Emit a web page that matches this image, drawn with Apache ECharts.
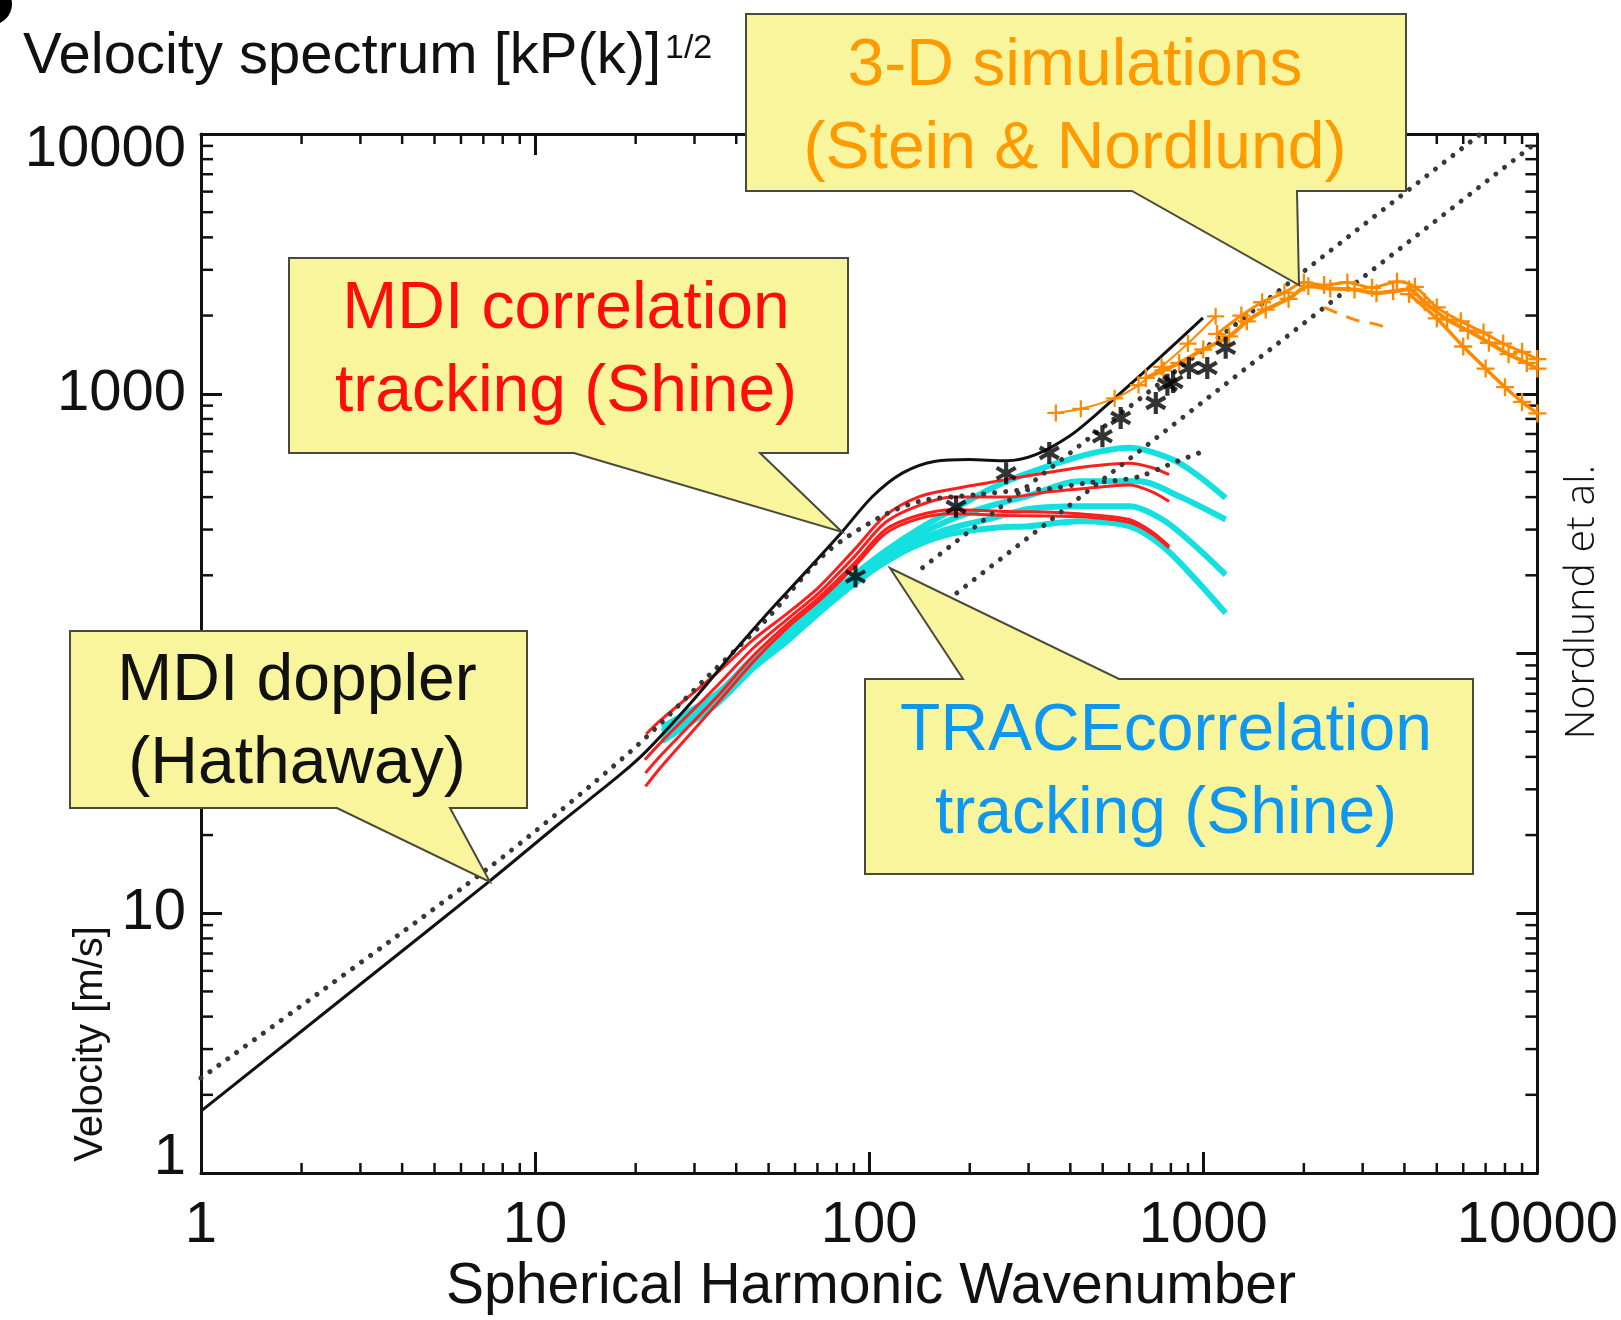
<!DOCTYPE html>
<html><head><meta charset="utf-8">
<script src="https://cdn.jsdelivr.net/npm/echarts@6/dist/echarts.min.js"></script>
<style>html,body{margin:0;padding:0;background:#fff}#c{width:1621px;height:1320px}</style>
</head><body><div id="c"></div>
<script>
// ---------------- data (k = spherical harmonic wavenumber, v = velocity m/s) ----------------
const xTickLabels = ['1', '10', '100', '1000', '10000'];
const yTickLabels = ['1', '10', '', '1000', '10000'];
const minorMantissas = [2, 3, 4, 5, 6, 7, 8, 9];
const decades = [1, 10, 100, 1000];

const mdiDoppler = [[1,1.73],[3,5.33],[7.31,13.3],[12,22.5],[17.9,34],[21.5,42],[30,67],[40,104],[49.2,141],[65,208],[82.4,291],[102.5,403],[126,496],[158,550],[199,558],[257,552],[315,583],[397,686],[484,844],[686,1257],[998,1959]];
const dottedCurve = [[1,2.32],[7.14,14.7],[19.6,42.7],[33,82],[49.2,135],[74.3,244],[107,333],[141,385],[215,410],[283,425],[352,432],[457,455],[543,462],[647,481],[780,530],[971,592]];
const dottedUpper = [[144.5,214],[6760,10000]];
const dottedLower = [[183,171],[10000,9330]];

const red1 = [[21.5,49],[24,56],[35,84],[45,113],[57,143],[71,181],[90,250],[112,340],[140,400],[178,430],[256,467],[350,500],[457,526],[600,540],[700,520],[790,488]];
const red2 = [[21.3,39],[24,46],[35,75],[45,105],[57,136],[71,172],[90,235],[112,320],[140,370],[178,400],[260,400],[350,420],[450,433],[600,445],[700,420],[790,385]];
const red3 = [[21.4,34.7],[24,41],[35,68],[45,98],[57,130],[71,165],[90,222],[112,300],[140,340],[178,358],[260,352],[350,350],[450,343],[600,328],[700,295],[790,259]];
const red4 = [[21.4,30.8],[24,37],[35,64],[45,93],[57,126],[71,160],[90,215],[112,290],[140,330],[178,345],[260,340],[350,338],[450,335],[600,320],[700,290],[790,255]];

const cyan1 = [[24,52],[35,70],[45,96],[57,122],[71,156],[90,200],[112,248],[140,300],[178,358],[230,430],[281,481],[425,573],[600,619],[809,558],[971,481],[1167,397]];
const cyan2 = [[24,50],[35,68],[45,93],[57,118],[71,152],[90,195],[112,240],[140,285],[178,330],[230,370],[296,403],[425,460],[643,460],[847,403],[1167,328]];
const cyan3 = [[24,48],[35,66],[45,90],[57,115],[71,148],[90,190],[112,232],[140,272],[178,305],[230,330],[300,360],[425,369],[600,369],[755,328],[948,259],[1167,201]];
const cyan4 = [[24,46],[35,64],[45,88],[57,112],[71,144],[90,185],[112,225],[140,262],[178,290],[239,305],[300,309],[425,323],[600,309],[755,259],[948,193],[1167,143]];

const orangeThin = [[362,844],[430,875],[543,960],[640,1080],[750,1270],[900,1560],[1089,1987]];
const orangeMain = [[673,1151],[760,1230],[847,1314],[1000,1480],[1195,1663],[1350,1900],[1538,2109],[1800,2320],[2063,2594],[2400,2540],[2836,2518],[3300,2440],[3700,2480],[4130,2518],[4600,2250],[5370,1928],[6200,1750],[7160,1571],[8200,1420],[9300,1314],[10000,1250]];
const orangeUpper = [[1100,1700],[1300,2000],[1500,2250],[1750,2450],[2000,2680],[2300,2620],[2700,2680],[3200,2560],[3800,2700],[4300,2580],[5000,2150],[5900,1900],[6900,1720],[7900,1560],[9000,1450],[10000,1360]];
const orangeLow = [[4130,2420],[5000,1950],[6000,1520],[7000,1250],[8000,1060],[9000,930],[10000,840]];
const orangeDash = [[2300,2150],[2836,1928],[3300,1850],[3680,1766]];

const asterisks = [[91,198],[182,367],[257,494],[346,592],[499,686],[566,807],[721,922],[781,1084],[812,1110],[906,1257],[1028,1257],[1167,1503]];

// ---------------- styling ----------------
const FONT = '"Liberation Sans", Arial, Helvetica, sans-serif';
const INK = '#111';
const RED = '#ff1e1e', CYAN = '#14e0e0', ORANGE = '#ff8a00';
const BOX_FILL = '#f8f59c', BOX_STROKE = '#4a4a3a';
const PLUS = 'path://M-1,-0.13L1,-0.13L1,0.13L-1,0.13Z M-0.13,-1L0.13,-1L0.13,1L-0.13,1Z';
const STAR = 'path://M-0.19,-1L0.19,-1L0.19,1L-0.19,1Z M-0.961,-0.336L-0.771,-0.664L0.961,0.336L0.771,0.664Z M0.771,-0.664L0.961,-0.336L-0.771,0.664L-0.961,0.336Z';

const minorTickData = [];
decades.forEach(d => minorMantissas.forEach(m => { minorTickData.push([m*d, 1, 0]); minorTickData.push([1, m*d, 1]); }));

function lineSeries(name, data, color, width, extra) {
  return Object.assign({
    name, type: 'line', data, showSymbol: false, smooth: 0.3, silent: true,
    lineStyle: { color, width }, itemStyle: { color }, z: 3
  }, extra || {});
}
const dotStyle = { color: '#383838', width: 5, type: [0.01, 11], cap: 'round' };

const axisCommon = {
  type: 'log', logBase: 10, min: 1, max: 10000,
  axisLine: { show: true, onZero: false, lineStyle: { color: INK, width: 3 } },
  axisTick: { show: true, inside: true, length: 21, lineStyle: { color: INK, width: 3 } },
  splitLine: { show: false }, minorTick: { show: false }, minorSplitLine: { show: false }
};

const chart = echarts.init(document.getElementById('c'), null, { renderer: 'canvas' });
const option = {
  animation: false,
  backgroundColor: '#fff',
  grid: { left: 201, right: 83, top: 134, bottom: 147, containLabel: false },
  xAxis: [
    Object.assign({}, axisCommon, { position: 'bottom',
      axisLabel: { margin: 24, fontSize: 58, fontFamily: FONT, color: INK,
        formatter: v => xTickLabels[Math.round(Math.log10(v))] } }),
    Object.assign({}, axisCommon, { position: 'top', axisLabel: { show: false } })
  ],
  yAxis: [
    Object.assign({}, axisCommon, { position: 'left',
      axisLabel: { margin: 15, fontSize: 58, fontFamily: FONT, color: INK,
        formatter: v => { const i = Math.round(Math.log10(v)); const s = yTickLabels[i];
          if (!s) return ''; if (i === 4) return '{top|' + s + '}'; if (i === 0) return '{bot|' + s + '}'; return s; },
        rich: {
          top: { fontSize: 58, fontFamily: FONT, color: INK, padding: [32, 0, 0, 0] },
          bot: { fontSize: 58, fontFamily: FONT, color: INK, padding: [0, 0, 30, 0] }
        } } }),
    Object.assign({}, axisCommon, { position: 'right', axisLabel: { show: false } })
  ],
  series: [
    {
      name: 'minor ticks', type: 'custom', data: minorTickData, silent: true, clip: false, z: 5,
      renderItem: function (params, api) {
        const a = api.value(0), b = api.value(1), kind = api.value(2);
        const st = { stroke: INK, lineWidth: 2.5 };
        if (kind === 0) {
          const p = api.coord([a, 1]), q = api.coord([a, 10000]);
          return { type: 'group', children: [
            { type: 'line', shape: { x1: p[0], y1: p[1], x2: p[0], y2: p[1] - 10 }, style: st },
            { type: 'line', shape: { x1: q[0], y1: q[1], x2: q[0], y2: q[1] + 10 }, style: st } ] };
        }
        const p = api.coord([1, b]), q = api.coord([10000, b]);
        return { type: 'group', children: [
          { type: 'line', shape: { x1: p[0], y1: p[1], x2: p[0] + 12, y2: p[1] }, style: st },
          { type: 'line', shape: { x1: q[0], y1: q[1], x2: q[0] - 12, y2: q[1] }, style: st } ] };
      }
    },
    lineSeries('TRACE 1', cyan1, CYAN, 6),
    lineSeries('TRACE 2', cyan2, CYAN, 6),
    lineSeries('TRACE 3', cyan3, CYAN, 6),
    lineSeries('TRACE 4', cyan4, CYAN, 6),
    lineSeries('MDI ct 4', red4, RED, 3, { z: 4 }),
    lineSeries('MDI ct 3', red3, RED, 3, { z: 4 }),
    lineSeries('MDI ct 2', red2, RED, 3, { z: 4 }),
    lineSeries('MDI ct 1', red1, RED, 3, { z: 4 }),
    lineSeries('dotted curve', dottedCurve, '#383838', 5, { lineStyle: dotStyle, z: 6 }),
    lineSeries('dotted upper', dottedUpper, '#383838', 5, { lineStyle: dotStyle, smooth: false, z: 6 }),
    lineSeries('dotted lower', dottedLower, '#383838', 5, { lineStyle: dotStyle, smooth: false, z: 6 }),
    lineSeries('MDI doppler', mdiDoppler, INK, 3, { z: 7 }),
    lineSeries('3-D thin', orangeThin, ORANGE, 2, { z: 8, showSymbol: true, symbol: PLUS, symbolSize: 17 }),
    lineSeries('3-D main', orangeMain, ORANGE, 4, { z: 8, showSymbol: true, symbol: PLUS, symbolSize: 18 }),
    lineSeries('3-D upper', orangeUpper, ORANGE, 3, { z: 8, showSymbol: true, symbol: PLUS, symbolSize: 18 }),
    lineSeries('3-D low', orangeLow, ORANGE, 3.5, { z: 8, showSymbol: true, symbol: PLUS, symbolSize: 18 }),
    lineSeries('3-D dash', orangeDash, ORANGE, 3, { z: 8, lineStyle: { color: ORANGE, width: 3, type: [14, 10] } }),
    { name: 'asterisks', type: 'scatter', data: asterisks, symbol: STAR, symbolSize: 22, symbolKeepAspect: true,
      itemStyle: { color: '#000' }, silent: true, z: 9 }
  ],
  graphic: [
    { type: 'circle', z: 100, shape: { cx: -9, cy: 4, r: 21 }, style: { fill: '#000' } },
    { type: 'text', z: 100, style: { x: 23, y: 57, text: 'Velocity spectrum [kP(k)]', font: '58px ' + FONT,
      fill: INK, align: 'left', textAlign: 'left', verticalAlign: 'middle', textVerticalAlign: 'middle' } },
    { type: 'text', z: 100, style: { x: 665, y: 49, text: '1/2', font: '34px ' + FONT,
      fill: INK, align: 'left', textAlign: 'left', verticalAlign: 'middle', textVerticalAlign: 'middle' } },
    { type: 'text', z: 100, style: { x: 871, y: 1287, text: 'Spherical Harmonic Wavenumber', font: '57px ' + FONT,
      fill: INK, align: 'center', textAlign: 'center', verticalAlign: 'middle', textVerticalAlign: 'middle' } },
    { type: 'text', z: 100, x: 91, y: 1044, rotation: Math.PI / 2,
      style: { x: 0, y: 0, text: 'Velocity [m/s]', font: '40px ' + FONT, fill: INK,
        align: 'center', textAlign: 'center', verticalAlign: 'middle', textVerticalAlign: 'middle' } },
    { type: 'text', z: 100, x: 1582, y: 602, rotation: Math.PI / 2,
      style: { x: 0, y: 0, text: 'Nordlund et al.', font: '300 41px "Open Sans", sans-serif', fill: '#111',
        align: 'center', textAlign: 'center', verticalAlign: 'middle', textVerticalAlign: 'middle' } },
    // callout: 3-D simulations
    { type: 'polygon', z: 100, shape: { points: [[746,14],[1406,14],[1406,191],[1297,191],[1299,285],[1132,191],[746,191]] },
      style: { fill: BOX_FILL, stroke: BOX_STROKE, lineWidth: 2 } },
    { type: 'text', z: 101, style: { x: 1075, y: 108.5, text: '3-D simulations\n(Stein & Nordlund)', font: '66px ' + FONT,
      lineHeight: 83, fill: '#ff9a00', align: 'center', textAlign: 'center', verticalAlign: 'middle', textVerticalAlign: 'middle' } },
    // callout: MDI correlation tracking
    { type: 'polygon', z: 100, shape: { points: [[289,258],[848,258],[848,453],[760,453],[842,532],[574,453],[289,453]] },
      style: { fill: BOX_FILL, stroke: BOX_STROKE, lineWidth: 2 } },
    { type: 'text', z: 101, style: { x: 566, y: 351.5, text: 'MDI correlation\ntracking (Shine)', font: '66px ' + FONT,
      lineHeight: 83, fill: '#ff0d0d', align: 'center', textAlign: 'center', verticalAlign: 'middle', textVerticalAlign: 'middle' } },
    // callout: MDI doppler
    { type: 'polygon', z: 100, shape: { points: [[70,631],[527,631],[527,808],[450,808],[490,882],[337,808],[70,808]] },
      style: { fill: BOX_FILL, stroke: BOX_STROKE, lineWidth: 2 } },
    { type: 'text', z: 101, style: { x: 297, y: 723.5, text: 'MDI doppler\n(Hathaway)', font: '66px ' + FONT,
      lineHeight: 83, fill: INK, align: 'center', textAlign: 'center', verticalAlign: 'middle', textVerticalAlign: 'middle' } },
    // callout: TRACE correlation tracking
    { type: 'polygon', z: 100, shape: { points: [[865,679],[963,679],[890,568],[1119,679],[1473,679],[1473,874],[865,874]] },
      style: { fill: BOX_FILL, stroke: BOX_STROKE, lineWidth: 2 } },
    { type: 'text', z: 101, style: { x: 1166, y: 773, text: 'TRACEcorrelation\ntracking (Shine)', font: '66px ' + FONT,
      lineHeight: 83, fill: '#0f96ee', align: 'center', textAlign: 'center', verticalAlign: 'middle', textVerticalAlign: 'middle' } }
  ]
};
chart.setOption(option);
</script>
</body></html>
